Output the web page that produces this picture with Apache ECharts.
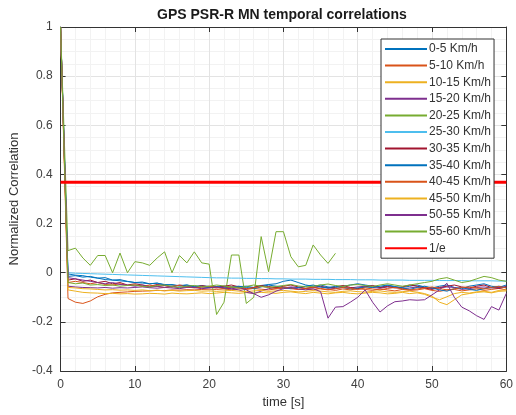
<!DOCTYPE html>
<html>
<head>
<meta charset="utf-8">
<script src="https://cdn.jsdelivr.net/npm/echarts@6/dist/echarts.min.js"></script>
<style>html,body{margin:0;padding:0;background:#fff}#c{width:516px;height:415px}</style>
</head>
<body>
<div id="c"></div>
<script>
const time = [0,1,2,3,4,5,6,7,8,9,10,11,12,13,14,15,16,17,18,19,20,21,22,23,24,25,26,27,28,29,30,31,32,33,34,35,36,37,38,39,40,41,42,43,44,45,46,47,48,49,50,51,52,53,54,55,56,57,58,59,60];
const names = ['0-5 Km/h','5-10 Km/h','10-15 Km/h','15-20 Km/h','20-25 Km/h','25-30 Km/h','30-35 Km/h','35-40 Km/h','40-45 Km/h','45-50 Km/h','50-55 Km/h','55-60 Km/h'];
const colors = ['#0072BD','#D95319','#EDB120','#7E2F8E','#77AC30','#4DBEEE','#A2142F','#0072BD','#D95319','#EDB120','#7E2F8E','#77AC30'];
const invE = 0.3679;

const s0 = [1,-0.005,-0.01,-0.012,-0.018,-0.022,-0.028,-0.03,-0.033,-0.036,-0.04,-0.042,-0.045,-0.043,-0.048,-0.05,-0.052,-0.05,-0.055,-0.053,-0.056,-0.058,-0.055,-0.06,-0.057,-0.055,-0.06,-0.052,-0.048,-0.045,-0.035,-0.03,-0.04,-0.05,-0.055,-0.05,-0.058,-0.06,-0.055,-0.05,-0.045,-0.05,-0.055,-0.06,-0.052,-0.058,-0.06,-0.055,-0.05,-0.058,-0.062,-0.055,-0.05,-0.06,-0.065,-0.055,-0.05,-0.045,-0.055,-0.06,-0.05];
const s1 = [1,-0.105,-0.12,-0.125,-0.115,-0.098,-0.088,-0.082,-0.08,-0.078,-0.076,-0.075,-0.074,-0.072,-0.073,-0.07,-0.071,-0.069,-0.07,-0.068,-0.067,-0.068,-0.066,-0.07,-0.065,-0.068,-0.064,-0.067,-0.07,-0.066,-0.063,-0.065,-0.068,-0.066,-0.07,-0.064,-0.068,-0.072,-0.066,-0.07,-0.065,-0.068,-0.072,-0.066,-0.07,-0.074,-0.068,-0.072,-0.07,-0.065,-0.072,-0.076,-0.07,-0.068,-0.074,-0.07,-0.066,-0.072,-0.068,-0.064,-0.07];
const s2 = [1,-0.07,-0.075,-0.08,-0.082,-0.083,-0.085,-0.084,-0.086,-0.085,-0.087,-0.086,-0.084,-0.085,-0.087,-0.083,-0.085,-0.086,-0.084,-0.082,-0.085,-0.083,-0.08,-0.082,-0.084,-0.081,-0.083,-0.08,-0.082,-0.084,-0.08,-0.078,-0.082,-0.085,-0.08,-0.083,-0.086,-0.082,-0.08,-0.084,-0.086,-0.083,-0.08,-0.082,-0.086,-0.084,-0.08,-0.085,-0.082,-0.088,-0.1,-0.11,-0.098,-0.085,-0.08,-0.083,-0.078,-0.075,-0.08,-0.072,-0.07];
const s3 = [1,-0.055,-0.058,-0.06,-0.061,-0.062,-0.06,-0.063,-0.061,-0.062,-0.06,-0.058,-0.061,-0.063,-0.06,-0.062,-0.065,-0.06,-0.058,-0.062,-0.06,-0.058,-0.062,-0.065,-0.07,-0.08,-0.085,-0.075,-0.065,-0.06,-0.062,-0.058,-0.06,-0.064,-0.06,-0.058,-0.062,-0.065,-0.06,-0.062,-0.058,-0.055,-0.06,-0.063,-0.058,-0.06,-0.065,-0.062,-0.058,-0.06,-0.064,-0.062,-0.058,-0.06,-0.068,-0.065,-0.06,-0.058,-0.062,-0.06,-0.056];
const s4 = [1,0.09,0.1,0.06,0.03,0.07,0.07,0.0,0.08,0.0,0.045,0.04,0.03,0.06,0.085,0.0,0.07,0.04,0.085,0.04,0.035,-0.17,-0.12,0.072,0.072,-0.125,-0.1,0.147,0.004,0.167,0.167,0.065,0.024,0.03,0.113,0.072,0.038,0.079];
const s5 = [1,0.0,-0.002,-0.003,-0.004,-0.005,-0.006,-0.007,-0.008,-0.009,-0.01,-0.011,-0.012,-0.013,-0.014,-0.015,-0.016,-0.017,-0.018,-0.019,-0.02,-0.021,-0.021,-0.022,-0.022,-0.023,-0.023,-0.024,-0.024,-0.025,-0.025,-0.026,-0.026,-0.026,-0.027,-0.027,-0.027,-0.028,-0.028,-0.028,-0.029,-0.029,-0.029,-0.03,-0.03,-0.03,-0.03,-0.031,-0.031,-0.031,-0.031,-0.032,-0.032,-0.032,-0.032,-0.033,-0.033,-0.033,-0.033,-0.034,-0.034];
const s6 = [1,-0.03,-0.025,-0.035,-0.03,-0.04,-0.035,-0.045,-0.04,-0.05,-0.045,-0.05,-0.055,-0.048,-0.052,-0.058,-0.05,-0.055,-0.06,-0.052,-0.058,-0.062,-0.055,-0.05,-0.058,-0.065,-0.06,-0.052,-0.056,-0.062,-0.055,-0.05,-0.058,-0.064,-0.06,-0.055,-0.062,-0.058,-0.052,-0.06,-0.065,-0.058,-0.052,-0.06,-0.056,-0.062,-0.058,-0.05,-0.055,-0.062,-0.068,-0.06,-0.055,-0.05,-0.058,-0.062,-0.055,-0.05,-0.06,-0.064,-0.058];
const s7 = [1,-0.015,-0.012,-0.018,-0.015,-0.022,-0.02,-0.03,-0.028,-0.035,-0.04,-0.038,-0.045,-0.042,-0.05,-0.048,-0.055,-0.05,-0.058,-0.055,-0.06,-0.056,-0.062,-0.058,-0.055,-0.06,-0.065,-0.058,-0.05,-0.055,-0.06,-0.065,-0.06,-0.055,-0.05,-0.058,-0.062,-0.055,-0.06,-0.066,-0.062,-0.058,-0.06,-0.055,-0.05,-0.056,-0.062,-0.068,-0.06,-0.055,-0.062,-0.07,-0.075,-0.065,-0.06,-0.068,-0.072,-0.065,-0.06,-0.055,-0.062];
const s8 = [1,-0.04,-0.035,-0.04,-0.045,-0.04,-0.048,-0.05,-0.045,-0.052,-0.05,-0.055,-0.05,-0.056,-0.06,-0.055,-0.052,-0.058,-0.062,-0.058,-0.055,-0.06,-0.065,-0.058,-0.06,-0.066,-0.062,-0.056,-0.06,-0.064,-0.058,-0.062,-0.068,-0.064,-0.06,-0.066,-0.07,-0.065,-0.06,-0.064,-0.068,-0.062,-0.066,-0.07,-0.064,-0.06,-0.066,-0.07,-0.066,-0.062,-0.058,-0.064,-0.07,-0.066,-0.06,-0.058,-0.062,-0.066,-0.06,-0.056,-0.062];
const s9 = [1,-0.06,-0.062,-0.065,-0.066,-0.068,-0.07,-0.069,-0.071,-0.07,-0.072,-0.07,-0.073,-0.071,-0.074,-0.072,-0.075,-0.073,-0.072,-0.075,-0.074,-0.076,-0.074,-0.072,-0.075,-0.077,-0.074,-0.072,-0.076,-0.074,-0.072,-0.075,-0.078,-0.076,-0.073,-0.075,-0.078,-0.08,-0.076,-0.074,-0.077,-0.079,-0.076,-0.074,-0.078,-0.08,-0.077,-0.075,-0.079,-0.085,-0.095,-0.12,-0.13,-0.11,-0.09,-0.085,-0.08,-0.078,-0.082,-0.076,-0.074];
const s10 = [1,-0.02,-0.025,-0.03,-0.035,-0.04,-0.045,-0.04,-0.048,-0.05,-0.055,-0.05,-0.058,-0.055,-0.06,-0.056,-0.062,-0.058,-0.06,-0.065,-0.062,-0.058,-0.062,-0.066,-0.06,-0.07,-0.085,-0.1,-0.09,-0.075,-0.065,-0.06,-0.066,-0.07,-0.065,-0.077,-0.185,-0.14,-0.138,-0.12,-0.1,-0.07,-0.12,-0.16,-0.135,-0.118,-0.115,-0.11,-0.112,-0.11,-0.09,-0.07,-0.043,-0.1,-0.14,-0.155,-0.175,-0.19,-0.138,-0.152,-0.084];
const s11 = [1,-0.04,-0.045,-0.042,-0.05,-0.048,-0.052,-0.05,-0.055,-0.052,-0.05,-0.055,-0.058,-0.052,-0.05,-0.056,-0.06,-0.055,-0.052,-0.058,-0.055,-0.05,-0.054,-0.058,-0.062,-0.056,-0.05,-0.055,-0.06,-0.056,-0.052,-0.048,-0.054,-0.058,-0.055,-0.05,-0.046,-0.052,-0.056,-0.05,-0.048,-0.052,-0.056,-0.05,-0.045,-0.05,-0.055,-0.05,-0.045,-0.04,-0.035,-0.025,-0.02,-0.03,-0.04,-0.035,-0.025,-0.015,-0.02,-0.03,-0.035];
const seriesValues = [s0,s1,s2,s3,s4,s5,s6,s7,s8,s9,s10,s11];

const font = 'Liberation Sans, Arial, Helvetica, sans-serif';
const chart = echarts.init(document.getElementById('c'), null, {renderer:'canvas'});

const series = seriesValues.map((vals, i) => ({
  name: names[i], type: 'line', symbol: 'none', animation: false,
  data: vals.map((v, k) => [time[k], v]),
  lineStyle: {color: colors[i], width: 1},
  itemStyle: {color: colors[i]}
}));
series.push({
  name: '1/e', type: 'line', symbol: 'none', animation: false,
  data: [[time[0], invE], [time[time.length-1], invE]],
  lineStyle: {color: '#FF0000', width: 3},
  itemStyle: {color: '#FF0000'}
});

const gridLine = {show: true, lineStyle: {color: '#e3e3e3', width: 1}};
const minorLine = {show: true, lineStyle: {color: '#f2f2f2', width: 1}};
const labelStyle = {color: '#404040', fontSize: 12, fontFamily: font};
const axLine = {show: true, onZero: false, lineStyle: {color: '#333'}};
const axTick = {show: true, inside: true, length: 5, lineStyle: {color: '#333'}};

chart.setOption({
  animation: false,
  backgroundColor: '#fff',
  title: {
    text: 'GPS PSR-R MN temporal correlations',
    left: 152, top: 3,
    textStyle: {fontSize: 14, fontWeight: 'bold', color: '#1a1a1a', fontFamily: font}
  },
  grid: {left: 57, right: 8, top: 27, bottom: 44, show: false},
  legend: {
    orient: 'vertical', left: 381, top: 39,
    data: names.concat(['1/e']),
    itemWidth: 42, itemHeight: 14, itemGap: 4.6,
    padding: [4, 3, 4, 3],
    borderColor: '#333', borderWidth: 1, backgroundColor: '#fff',
    itemStyle: {opacity: 0},
    textStyle: {fontSize: 12, color: '#333', fontFamily: font, padding: [0,0,0,-3]}
  },
  xAxis: [{
    type: 'value', min: 0, max: 60, interval: 10,
    name: 'time [s]', nameLocation: 'middle', nameGap: 21,
    nameTextStyle: {fontSize: 13, color: '#333', fontFamily: font},
    axisLine: axLine, axisTick: axTick,
    axisLabel: Object.assign({margin: 8}, labelStyle),
    splitLine: gridLine,
    minorTick: {show: false, splitNumber: 5},
    minorSplitLine: minorLine
  }, {
    type: 'value', min: 0, max: 60, interval: 10, position: 'top',
    axisLine: axLine, axisTick: axTick,
    axisLabel: {show: false}, splitLine: {show: false}
  }],
  yAxis: [{
    type: 'value', min: -0.4, max: 1, interval: 0.2,
    name: 'Normalized Correlation', nameLocation: 'middle', nameGap: 36,
    nameTextStyle: {fontSize: 13, color: '#333', fontFamily: font},
    axisLine: axLine, axisTick: axTick,
    axisLabel: Object.assign({margin: 8, formatter: v => String(Math.round(v*10)/10)}, labelStyle),
    splitLine: gridLine,
    minorTick: {show: false, splitNumber: 4},
    minorSplitLine: minorLine
  }, {
    type: 'value', min: -0.4, max: 1, interval: 0.2, position: 'right',
    axisLine: axLine, axisTick: axTick,
    axisLabel: {show: false}, splitLine: {show: false}
  }],
  series: series
});
</script>
</body>
</html>
